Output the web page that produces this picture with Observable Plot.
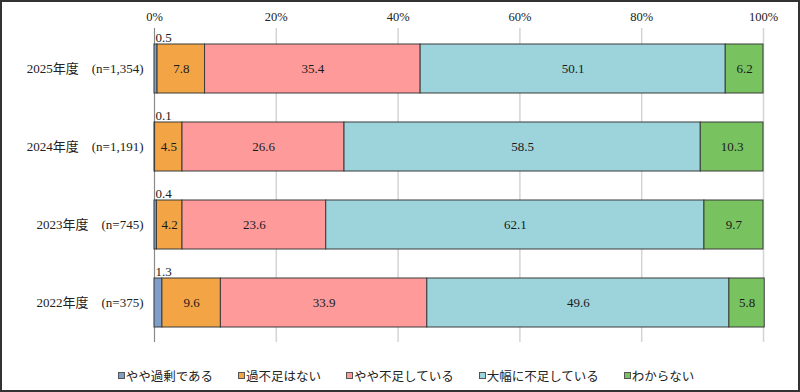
<!DOCTYPE html>
<html lang="ja">
<head>
<meta charset="utf-8">
<script src="https://cdn.jsdelivr.net/npm/d3@7"></script>
<script src="https://cdn.jsdelivr.net/npm/@observablehq/plot@0.6"></script>
<style>
  html, body { margin: 0; padding: 0; background: #fff; }
  #wrap { position: relative; width: 800px; height: 392px; overflow: hidden; background: #fff;
          font-family: "Liberation Serif", "Noto Sans CJK JP", serif; color: #222; }
  #frame { position: absolute; inset: 0; border: 2px solid #333; pointer-events: none; box-sizing: border-box; }
  #chart { position: absolute; left: 0; top: 0; }
  #legend { position: absolute; left: 0; right: 0; top: 366px; display: flex; justify-content: center;
            gap: 25px; font-size: 12.5px; padding-left: 12px; }
  .item { display: flex; align-items: center; white-space: nowrap; }
  .sw { width: 7px; height: 7px; border: 1px solid #555; margin-right: 1px; box-sizing: border-box; }
</style>
</head>
<body>
<div id="wrap">
  <div id="chart"></div>
  <div id="legend"></div>
  <div id="frame"></div>
</div>
<script>
// Survey years (with respondent counts)
const years = ["2025年度　(n=1,354)", "2024年度　(n=1,191)", "2023年度　(n=745)", "2022年度　(n=375)"];
// Response categories, in stacking order
const categories = ["やや過剰である", "過不足はない", "やや不足している", "大幅に不足している", "わからない"];
const colors = ["#7f9fc8", "#f3a545", "#ff9a9a", "#9dd4dc", "#78c360"];

// Share of responses (%), one array per category, aligned with `years`
const slightlyExcess = [0.5, 0.1, 0.4, 1.3];
const balanced       = [7.8, 4.5, 4.2, 9.6];
const slightlyShort  = [35.4, 26.6, 23.6, 33.9];
const severelyShort  = [50.1, 58.5, 62.1, 49.6];
const unknown        = [6.2, 10.3, 9.7, 5.8];

const xTicks = [0, 20, 40, 60, 80, 100];

const series = [slightlyExcess, balanced, slightlyShort, severelyShort, unknown];
const rows = [];
years.forEach((year, i) => {
  categories.forEach((category, j) => {
    rows.push({year, category, value: series[j][i]});
  });
});

const stackOpts = {x: "value", y: "year", z: "category", order: categories};

const chart = Plot.plot({
  width: 800,
  height: 352,
  marginLeft: 154,
  marginRight: 37,
  marginTop: 28,
  marginBottom: 10,
  style: {fontFamily: "'Liberation Serif', 'Noto Sans CJK JP', serif", fontSize: "13px", color: "#222", background: "transparent"},
  x: {domain: [0, 100]},
  y: {domain: years, paddingInner: 0.374, paddingOuter: 0.19, label: null},
  color: {domain: categories, range: colors},
  marks: [
    Plot.gridX(xTicks, {stroke: "#d4d4d4", strokeOpacity: 1, strokeWidth: 1.5}),
    Plot.ruleX([0], {stroke: "#8a8a8a"}),
    Plot.axisX(xTicks, {anchor: "top", tickSize: 0, tickPadding: 8, tickFormat: d => d + "%", fontSize: 12.5, label: null}),
    Plot.axisY({tickSize: 0, tickPadding: 11, fontSize: 13, label: null}),
    Plot.barX(rows, Plot.stackX({...stackOpts, fill: "category", stroke: "#3a3a3a", strokeWidth: 1})),
    Plot.text(rows, Plot.stackX({
      ...stackOpts,
      text: d => d.value >= 2 ? d.value.toFixed(1) : null,
      fill: "#1a1a1a", fontSize: 13
    })),
    Plot.text(rows.filter(d => d.category === categories[0]), {
      x: 0, y: "year", text: d => d.value.toFixed(1),
      textAnchor: "start", dx: 1, dy: -31, fill: "#1a1a1a", fontSize: 13
    })
  ]
});
document.getElementById("chart").appendChild(chart);

const legend = document.getElementById("legend");
categories.forEach((c, i) => {
  const item = document.createElement("div");
  item.className = "item";
  const sw = document.createElement("span");
  sw.className = "sw";
  sw.style.background = colors[i];
  const label = document.createElement("span");
  label.textContent = c;
  item.appendChild(sw);
  item.appendChild(label);
  legend.appendChild(item);
});
</script>
</body>
</html>
